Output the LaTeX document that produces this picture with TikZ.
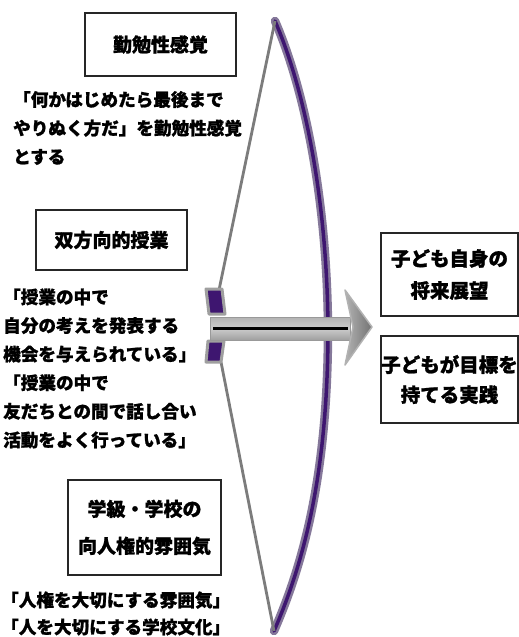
\documentclass[tikz,border=0pt]{standalone}
\usepackage{fontspec}
\setmainfont{Noto Sans CJK JP}[BoldFeatures={FakeBold=1.2}]
\definecolor{bowpurple}{HTML}{3E1670}
\definecolor{bowedge}{HTML}{85789A}
\definecolor{stringgray}{HTML}{7C7C7C}
\begin{document}
\begin{tikzpicture}[x=1pt,y=-1pt,
  titlebox/.style={draw=black!85,line width=1.6pt,inner sep=0pt,align=center,
    font=\fontsize{19}{34}\selectfont\bfseries},
  bodytext/.style={inner sep=0pt,anchor=west,align=left,
    font=\fontsize{17.6}{28.6}\selectfont\bfseries},
  limb/.style={line width=8.5pt,draw=bowedge,line cap=round},
  limbcore/.style={line width=3.5pt,draw=bowpurple,line cap=round},
  bowstring/.style={line width=2.8pt,draw=stringgray},
  nockpart/.style={fill=bowpurple,draw=gray!75,line width=3pt,line join=round}]
\useasboundingbox[fill=white] (0,0) rectangle (519,637);

% bow tips and nock points
\coordinate (tiptop) at (275,21);
\coordinate (tipbot) at (274,631);
\coordinate (grip) at (328,328);
\coordinate (nockup) at (219,290);
\coordinate (nockdn) at (221,362);

% limb of the bow
\draw[limb] (tiptop) .. controls (305,90) and (327,200) .. (grip)
  .. controls (328,470) and (305,560) .. (tipbot);
\draw[limbcore] (tiptop) .. controls (305,90) and (327,200) .. (grip)
  .. controls (328,470) and (305,560) .. (tipbot);

% bowstring
\draw[bowstring] (tiptop) -- (nockup);
\draw[bowstring] (nockdn) -- (tipbot);

% fletching at the back of the arrow
\draw[nockpart] (206,289) -- (222,289) -- (225,314) -- (209,314) -- cycle;
\draw[nockpart] (208,341) -- (224,341) -- (221,362) -- (206,362) -- cycle;

% shaft
\draw[draw=gray!80,line width=1pt,top color=gray!60,bottom color=gray!75,middle color=gray!40]
  (210,317) rectangle (350,340);
\draw[line width=3pt,black] (213,328) -- (348,328);

% arrowhead
\draw[draw=gray!60,line width=1.5pt,left color=gray!60,right color=gray!90!black,line join=round]
  (345,290) -- (372,327) -- (345,365) -- (353,327) -- cycle;

% left column: title boxes and their descriptions
\node[titlebox,minimum width=151pt,minimum height=63pt] (t1) at (160.5,44.5) {勤勉性感覚};
\node[bodytext] (d1) at (13,128) {「何かはじめたら最後まで\\やりぬく方だ」を勤勉性感覚\\とする};

\node[titlebox,minimum width=151pt,minimum height=60pt] (t2) at (111.5,240) {双方向的授業};
\node[bodytext] (d2) at (3,368.5) {「授業の中で\\自分の考えを発表する\\機会を与えられている」\\「授業の中で\\友だちとの間で話し合い\\活動をよく行っている」};

\node[titlebox,minimum width=153pt,minimum height=95pt,
  font=\fontsize{19}{37}\selectfont\bfseries] (t3) at (144.5,527.5) {学級・学校の\\向人権的雰囲気};
\node[bodytext,font=\fontsize{17.6}{27}\selectfont\bfseries] (d3) at (1,613.5)
  {「人権を大切にする雰囲気」\\「人を大切にする学校文化」};

% right column: outcomes
\node[titlebox,minimum width=137pt,minimum height=83pt,
  font=\fontsize{19.5}{32}\selectfont\bfseries] (o1) at (449.5,274.5) {子ども自身の\\将来展望};
\node[titlebox,minimum width=137pt,minimum height=87pt,
  font=\fontsize{19.5}{30}\selectfont\bfseries] (o2) at (449.5,379.5) {子どもが目標を\\持てる実践};
\end{tikzpicture}
\end{document}
